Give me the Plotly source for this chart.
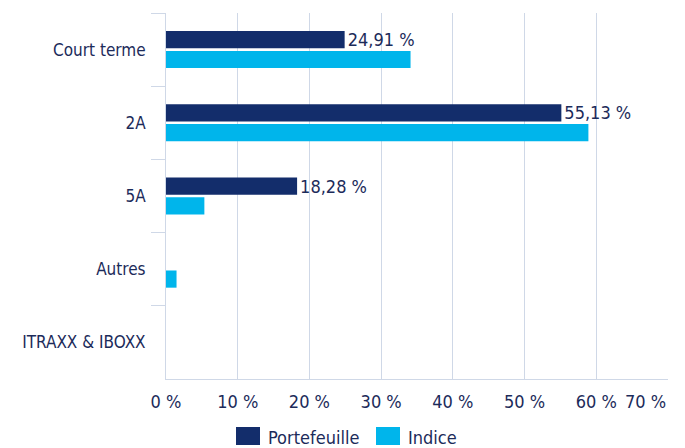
import plotly.graph_objects as go

categories = ["Court terme", "2A", "5A", "Autres", "ITRAXX & IBOXX"]
portefeuille = [24.91, 55.13, 18.28, 0.0, 0.0]
indice = [34.1, 58.9, 5.35, 1.47, 0.0]
tick_values = [0, 10, 20, 30, 40, 50, 60, 70]
tick_labels = ["0 %", "10 %", "20 %", "30 %", "40 %", "50 %", "60 %", "70 %"]
series_names = ["Portefeuille", "Indice"]

NAVY = "#132d6b"
CYAN = "#00b5eb"
TEXT = "#1c2b5a"
GRID = "#cfd8e7"
FONT = "DejaVu Sans Condensed, DejaVu Sans"
FS_Y = 17
FS = 18

W, H = 685, 448
L, R, T, B = 166, 17, 13, 69
PW, PH = W - L - R, H - T - B


def fmt(v):
    return ("%.2f %%" % v).replace(".", ",") if v > 0 else ""


def px_x(p):
    return (p - L) / PW


def px_y(p):
    return (H - B - p) / PH


# last tick label is drawn right-aligned on its gridline (as in the reference)
ticktext = list(tick_labels[:-1]) + [""]

fig = go.Figure()
fig.add_trace(go.Bar(
    y=categories, x=portefeuille, orientation="h", name=series_names[0],
    marker=dict(color=NAVY, line=dict(width=0)),
    text=[fmt(v) for v in portefeuille], textposition="outside",
    constraintext="none",
    textfont=dict(color=TEXT, size=FS, family=FONT), cliponaxis=False,
))
fig.add_trace(go.Bar(
    y=categories, x=indice, orientation="h", name=series_names[1],
    marker=dict(color=CYAN, line=dict(width=0)),
))

shapes = []
annots = [dict(xref="x", yref="paper", x=tick_values[-1], y=px_y(401),
               xanchor="right", yanchor="middle", showarrow=False,
               text=tick_labels[-1], font=dict(size=FS, color=TEXT, family=FONT))]
for (x0, x1, tx), name, col in zip([(236, 260, 266), (376, 400, 406)], series_names, [NAVY, CYAN]):
    shapes.append(dict(type="rect", xref="paper", yref="paper",
                       x0=px_x(x0), x1=px_x(x1), y0=px_y(445), y1=px_y(427),
                       fillcolor=col, line=dict(width=0)))
    annots.append(dict(xref="paper", yref="paper", x=px_x(tx), y=px_y(437),
                       xanchor="left", yanchor="middle", showarrow=False,
                       text=name, font=dict(size=FS, color=TEXT, family=FONT)))

fig.update_layout(
    width=W, height=H,
    margin=dict(l=L, r=R, t=T, b=B, autoexpand=False),
    paper_bgcolor="white", plot_bgcolor="white",
    barmode="group", bargap=0.46, bargroupgap=0.13,
    font=dict(family=FONT, color=TEXT, size=FS),
    showlegend=False,
    shapes=shapes, annotations=annots,
    xaxis=dict(
        range=[0, 70], tickvals=tick_values, ticktext=ticktext,
        showgrid=True, gridcolor=GRID, gridwidth=1,
        showline=True, linecolor=GRID, linewidth=1,
        zeroline=False, ticks="", ticklen=0, automargin=False,
        ticklabelstandoff=6,
        tickfont=dict(size=FS, color=TEXT, family=FONT),
    ),
    yaxis=dict(
        autorange="reversed", categoryorder="array", categoryarray=categories,
        showline=True, linecolor=GRID, linewidth=1,
        ticks="outside", ticklen=14, tickcolor=GRID, tickwidth=1,
        tickson="boundaries", showgrid=False, automargin=False,
        ticklabelstandoff=16,
        tickfont=dict(size=FS_Y, color=TEXT, family=FONT),
    ),
)

fig.write_html("out.html", config={"displayModeBar": False},
               post_script="document.body.style.margin='0';")
